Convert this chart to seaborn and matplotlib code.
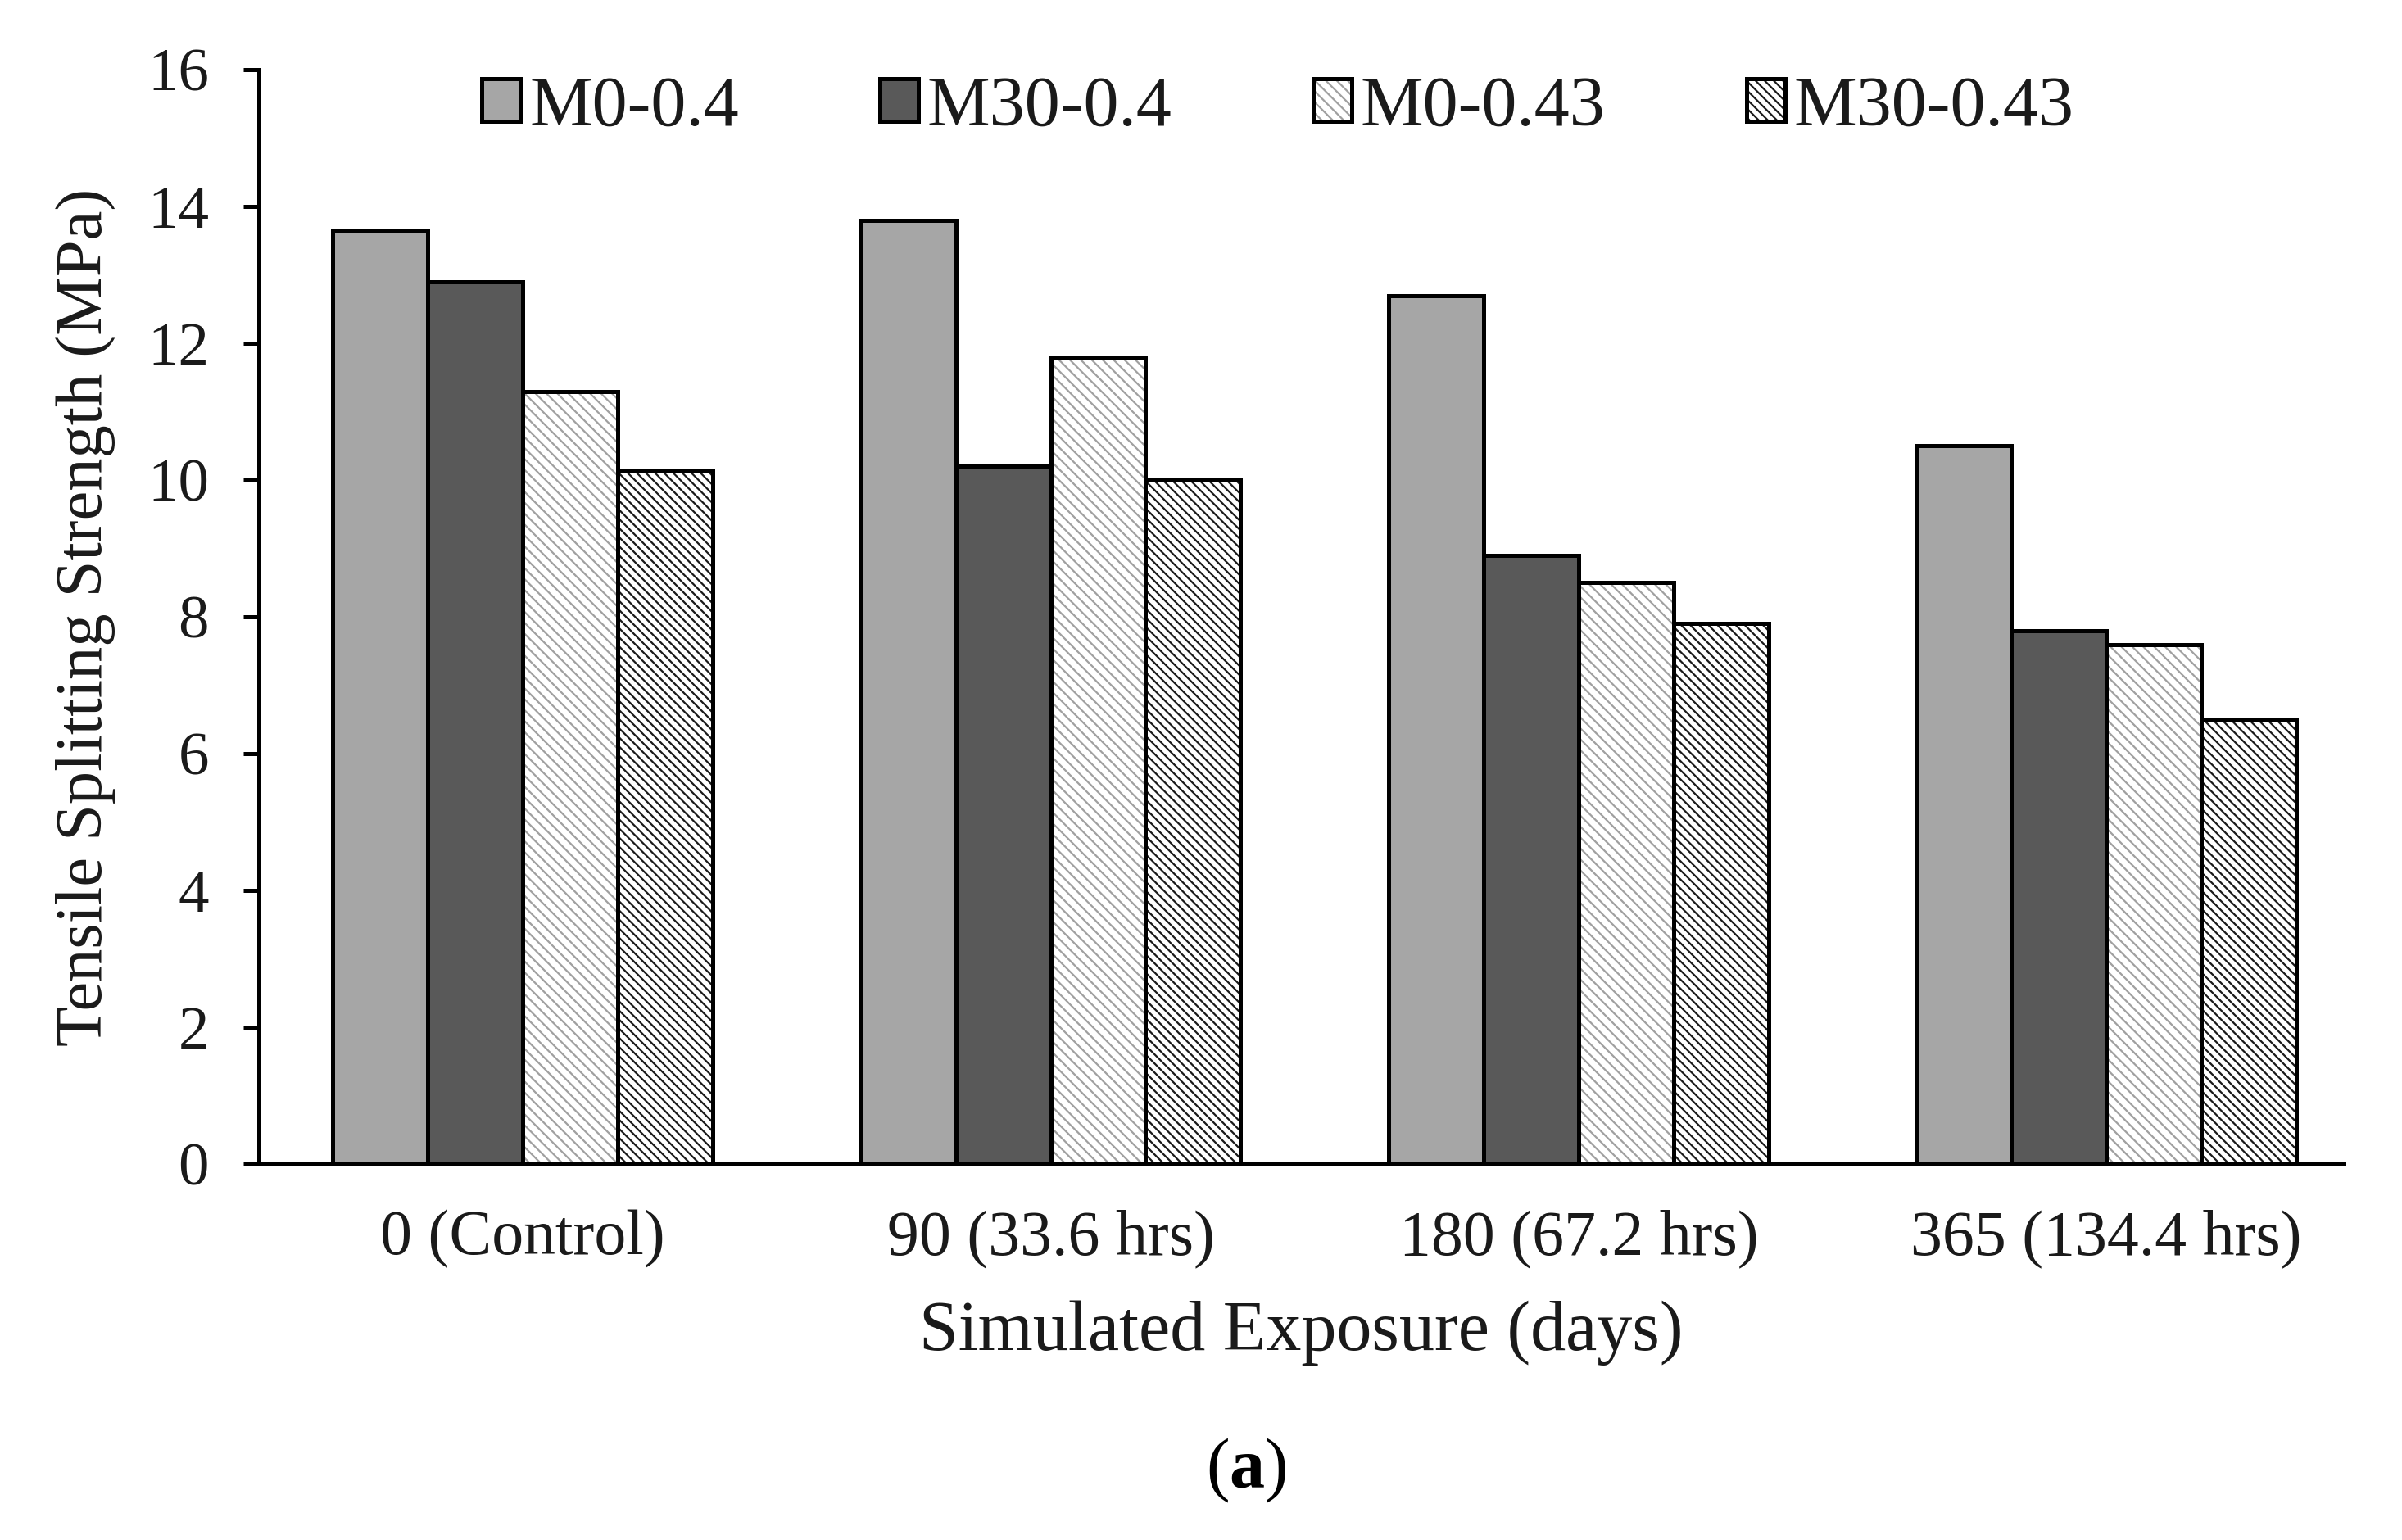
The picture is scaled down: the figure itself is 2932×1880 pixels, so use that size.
import pandas as pd
import matplotlib.pyplot as plt
import numpy as np
import seaborn as sns
from matplotlib.patches import Patch, Rectangle
from matplotlib.legend_handler import HandlerTuple

# exposure groups and mixes
exposure = ['0 (Control)', '90 (33.6 hrs)', '180 (67.2 hrs)', '365 (134.4 hrs)']
mixes = ['M0-0.4', 'M30-0.4', 'M0-0.43', 'M30-0.43']

# tensile splitting strength (MPa)
m0_04 = [13.65, 13.8, 12.7, 10.5]
m30_04 = [12.9, 10.2, 8.9, 7.8]
m0_043 = [11.3, 11.8, 8.5, 7.6]
m30_043 = [10.15, 10.0, 7.9, 6.5]

# long format table for seaborn
strength = pd.DataFrame({
    'Simulated Exposure (days)': exposure * 4,
    'Mix': np.repeat(mixes, 4),
    'Tensile Splitting Strength (MPa)': m0_04 + m30_04 + m0_043 + m30_043,
})

sns.set_style('white')
plt.rcParams['font.family'] = ['Liberation Serif', 'DejaVu Serif']
plt.rcParams['hatch.linewidth'] = 0.8
txt = '#1a1a1a'

# fill colour, hatch and hatch colour for each mix
fills = ['#a6a6a6', '#595959', 'white', 'white']
hatches = [None, None, '\\' * 5, '\\' * 6]
hatch_cols = [None, None, '#a0a0a0', '#1a1a1a']
edge_lw = 1.8

fig = plt.figure(figsize=(14.66, 9.40), dpi=200)
ax = fig.add_axes([0.1078, 0.2441, 0.868, 0.7106])

sns.barplot(data=strength, x='Simulated Exposure (days)', y='Tensile Splitting Strength (MPa)',
            hue='Mix', hue_order=mixes, palette=fills, width=0.72, gap=0,
            edgecolor='black', linewidth=edge_lw, saturation=1, legend=False, ax=ax)

# hatching: lines in their own colour, black outline drawn on top
for cont, h, hc in zip(ax.containers, hatches, hatch_cols):
    if h is None:
        continue
    for p in cont.patches:
        p.set_hatch(h)
        p.set_edgecolor(hc)
        ax.add_patch(Rectangle(p.get_xy(), p.get_width(), p.get_height(),
                               fill=False, edgecolor='black', linewidth=edge_lw, zorder=p.get_zorder() + 0.1))

ax.set_ylim(0, 16)
ax.set_yticks(range(0, 17, 2))
ax.set_xlim(-0.5, 3.45)

for s in ['top', 'right']:
    ax.spines[s].set_visible(False)
for s in ['left', 'bottom']:
    ax.spines[s].set_linewidth(1.8)
    ax.spines[s].set_color('black')

ax.tick_params(axis='y', left=True, length=7, width=1.8, pad=15, labelsize=27, labelcolor=txt, color='black')
ax.tick_params(axis='x', bottom=False, length=0, pad=20, labelsize=28, labelcolor=txt)

ax.set_xlabel('Simulated Exposure (days)', fontsize=31, color=txt, labelpad=14)
ax.set_ylabel('Tensile Splitting Strength (MPa)', fontsize=29, color=txt, labelpad=14)

# legend along the top
handles = []
for f, h, hc in zip(fills, hatches, hatch_cols):
    if h is None:
        handles.append(Patch(facecolor=f, edgecolor='black', linewidth=edge_lw))
    else:
        handles.append((Patch(facecolor=f, edgecolor=hc, hatch=h, linewidth=0),
                        Patch(facecolor='none', edgecolor='black', linewidth=edge_lw)))
fig.legend(handles, mixes, loc='center', bbox_to_anchor=(0.532, 0.93), ncol=4, frameon=False,
           fontsize=31, handlelength=0.55, handleheight=0.55, handletextpad=0.12, columnspacing=2.0,
           labelcolor=txt, handler_map={tuple: HandlerTuple(ndivide=1)})

# panel caption
plt.rcParams['mathtext.fontset'] = 'custom'
plt.rcParams['mathtext.bf'] = 'Liberation Serif:bold'
fig.text(0.519, 0.045, r'($\mathbf{a}$)', ha='center', va='center', fontsize=31, color='black')

fig.savefig('out.png', dpi=200)
